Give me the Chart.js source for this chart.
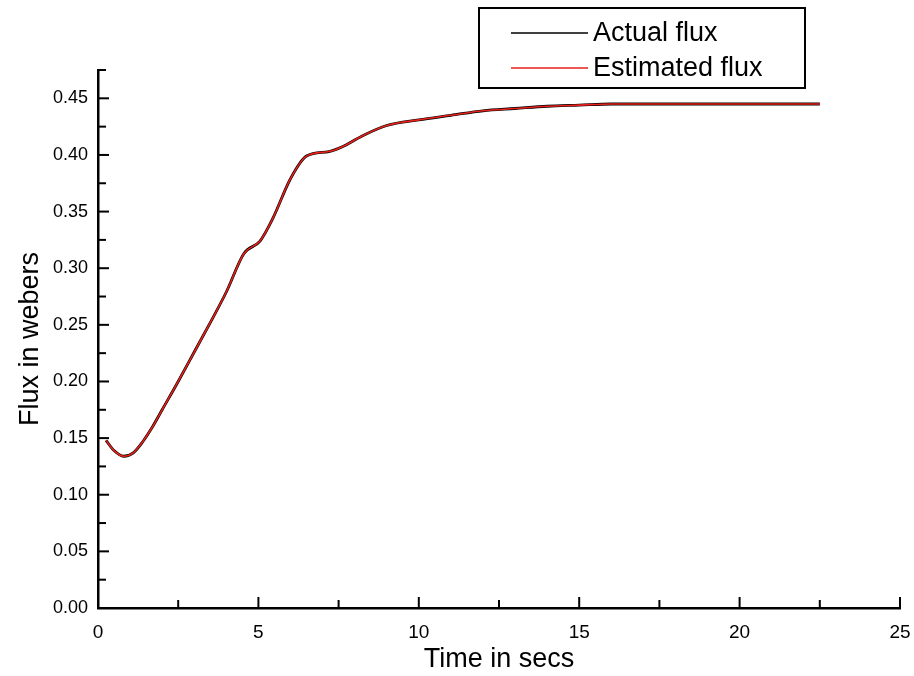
<!DOCTYPE html>
<html>
<head>
	<meta charset="utf-8" />
	<title>Flux estimation</title>
	<script src="https://cdn.jsdelivr.net/npm/chart.js@4.4.1/dist/chart.umd.min.js"></script>
	<style>
		html, body { margin: 0; padding: 0; background: #fff; }
		#wrap { width: 914px; height: 676px; }
	</style>
</head>
<body>
<div id="wrap"><canvas id="fluxChart"></canvas></div>
<script>
// time samples (secs)
var timeSecs = [0.25, 0.5, 0.8, 1.1, 1.4, 1.7, 2.0, 2.5, 3.0, 3.5, 4.0, 4.55, 5.05, 5.45, 6.0, 6.5, 7.2, 7.6, 8.25, 9.0, 10.0, 11.0, 12.0, 13.0, 14.0, 15.0, 16.0, 18.0, 20.0, 22.5]
var actualFlux = [0.148, 0.139, 0.134, 0.137, 0.147, 0.160, 0.175, 0.200, 0.226, 0.252, 0.279, 0.313, 0.324, 0.344, 0.379, 0.399, 0.403, 0.407, 0.417, 0.426, 0.431, 0.435, 0.439, 0.441, 0.443, 0.444, 0.445, 0.445, 0.445, 0.445]
var estimatedFlux = [0.148, 0.139, 0.134, 0.137, 0.147, 0.160, 0.175, 0.200, 0.226, 0.252, 0.279, 0.313, 0.324, 0.344, 0.379, 0.399, 0.403, 0.407, 0.417, 0.426, 0.431, 0.435, 0.439, 0.441, 0.443, 0.444, 0.445, 0.445, 0.445, 0.445]
var seriesNames = ["Actual flux", "Estimated flux"]

function pts(xs, ys) {
	var out = []
	for (var i = 0; i < xs.length; i++) out.push({x: xs[i], y: ys[i]})
	return out
}

var FONT = "'Liberation Sans', Arial, sans-serif"

// inward ticks, like the original plot
var innerTicks = {
	id: "innerTicks",
	afterDraw: function(chart) {
		var ctx = chart.ctx, xs = chart.scales.x, ys = chart.scales.y
		var a = chart.chartArea
		ctx.save()
		ctx.strokeStyle = "#000"
		ctx.lineWidth = 2
		ys.ticks.forEach(function(t, i) {
			var py = ys.getPixelForValue(t.value)
			var len = (i % 2 === 0) ? 11 : 8
			ctx.beginPath(); ctx.moveTo(a.left, py); ctx.lineTo(a.left + len, py); ctx.stroke()
		})
		xs.ticks.forEach(function(t, i) {
			var px = xs.getPixelForValue(t.value)
			var len = (i % 2 === 0) ? 11 : 8
			ctx.beginPath(); ctx.moveTo(px, a.bottom); ctx.lineTo(px, a.bottom - len); ctx.stroke()
		})
		ctx.restore()
	}
}

// boxed legend in the top right
var boxLegend = {
	id: "boxLegend",
	afterDraw: function(chart) {
		var ctx = chart.ctx
		ctx.save()
		ctx.strokeStyle = "#000"
		ctx.lineWidth = 2
		ctx.strokeRect(479, 8, 326, 80)
		var rows = [33, 68]
		chart.data.datasets.forEach(function(ds, i) {
			ctx.strokeStyle = ds.borderColor
			ctx.lineWidth = 1.5
			ctx.beginPath(); ctx.moveTo(511, rows[i]); ctx.lineTo(588, rows[i]); ctx.stroke()
			ctx.fillStyle = "#000"
			ctx.font = "27px " + FONT
			ctx.textBaseline = "middle"
			ctx.fillText(ds.label, 593, rows[i] + 1)
		})
		ctx.restore()
	}
}

new Chart("fluxChart", {
	type: "line",
	data: {
		datasets: [{
			label: seriesNames[0],
			data: pts(timeSecs, actualFlux),
			borderColor: "#000000",
			borderWidth: 2.8,
			pointRadius: 0,
			cubicInterpolationMode: "monotone",
			order: 2,
			fill: false
		}, {
			label: seriesNames[1],
			data: pts(timeSecs, estimatedFlux),
			borderColor: "#e8201a",
			borderWidth: 1.6,
			pointRadius: 0,
			cubicInterpolationMode: "monotone",
			order: 1,
			fill: false
		}]
	},
	options: {
		responsive: true,
		maintainAspectRatio: false,
		animation: false,
		layout: {padding: {left: 14, top: 70, right: 14, bottom: 0}},
		plugins: {legend: {display: false}, tooltip: {enabled: false}},
		scales: {
			x: {
				type: "linear", min: 0, max: 25,
				afterFit: function(s) { s.height = 68; s.paddingLeft = 0; s.paddingRight = 0 },
				grid: {display: false, drawTicks: false},
				border: {display: true, color: "#000", width: 2.5},
				ticks: {
					stepSize: 2.5, padding: 13, color: "#000", maxRotation: 0,
					font: {family: FONT, size: 19},
					callback: function(v, i) { return (i % 2 === 0) ? String(v) : "" }
				},
				title: {display: true, text: "Time in secs", color: "#000", padding: {top: 2, bottom: 0}, font: {family: FONT, size: 27}}
			},
			y: {
				type: "linear", min: 0, max: 0.475,
				afterFit: function(s) { s.width = 84 },
				grid: {display: false, drawTicks: false},
				border: {display: true, color: "#000", width: 2.5},
				ticks: {
					stepSize: 0.025, padding: 10, color: "#000",
					font: {family: FONT, size: 18},
					callback: function(v, i) { return (i % 2 === 0) ? v.toFixed(2) : "" }
				},
				title: {display: true, text: "Flux in webers", color: "#000", padding: {top: 0, bottom: 4}, font: {family: FONT, size: 27}}
			}
		}
	},
	plugins: [innerTicks, boxLegend]
})
</script>
</body>
</html>
